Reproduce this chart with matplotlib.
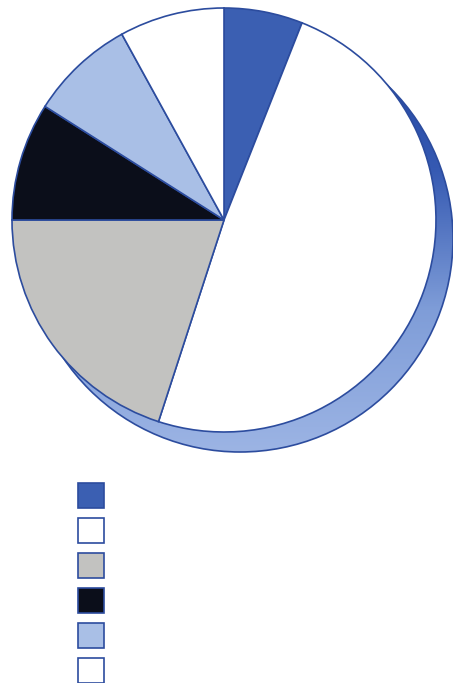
import matplotlib
matplotlib.use('Agg')
import matplotlib.pyplot as plt
import numpy as np
from matplotlib.colors import LinearSegmentedColormap
from matplotlib.patches import Circle

# slice shares, clockwise from 12 o'clock
values = [6, 49, 20, 9, 8, 8]
colors = ['#3b5fb2', '#ffffff', '#c2c2c0', '#0b0e1a', '#a9bfe6', '#ffffff']
labels = ['', '', '', '', '', '']

edge = '#2c4c9e'

W, H = 453, 683
fig = plt.figure(figsize=(W / 100, H / 100), dpi=100)
ax = fig.add_axes([0, 0, 1, 1])

cx, cy, r = 224, H - 220, 212

# blue 3d rim behind the pie (offset circle with vertical gradient)
sx, sy, sr = cx + 16, cy - 19, 213
rim = Circle((sx, sy), sr, facecolor='none', edgecolor=edge, linewidth=1.2, zorder=1)
ax.add_patch(rim)
cmap = LinearSegmentedColormap.from_list('rim', ['#1f44a2', '#3559b2', '#7f9dd8', '#9cb4e4'])
grad = np.linspace(0, 1, 256).reshape(-1, 1) * np.ones((1, 16))
im = ax.imshow(grad, cmap=cmap, aspect='auto', zorder=0.5,
               extent=(sx - sr, sx + sr, sy - sr, sy + sr), origin='upper')
clip = Circle((sx, sy), sr, transform=ax.transData)
im.set_clip_path(clip)

wedges, _ = ax.pie(values, colors=colors, startangle=90, counterclock=False,
                   center=(cx, cy), radius=r,
                   wedgeprops=dict(edgecolor=edge, linewidth=1.2, zorder=2))

ax.set_xlim(0, W)
ax.set_ylim(0, H)
ax.set_aspect('auto')
ax.axis('off')

fig.legend(handles=wedges, labels=labels, loc='upper left',
           bbox_to_anchor=(78 / W, 1 - 483 / H), frameon=False,
           fontsize=10, handlelength=1.87, handleheight=2.43,
           labelspacing=0.69, borderpad=0, borderaxespad=0, handletextpad=0)

fig.savefig('out.png', dpi=100)
